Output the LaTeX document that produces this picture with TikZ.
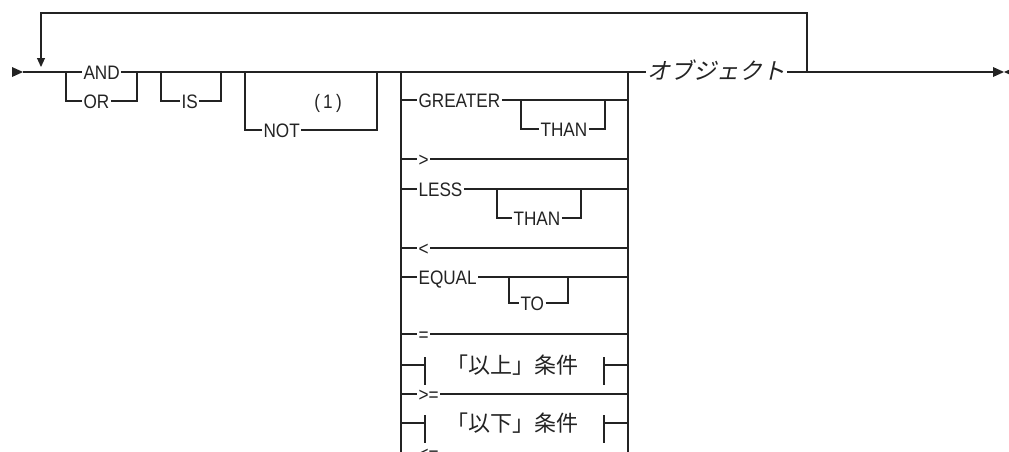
\documentclass[tikz,border=0pt]{standalone}
\usepackage{fontspec}
\setmainfont{Liberation Sans}[FakeStretch=0.88]
\newfontfamily\jpfont{Noto Sans CJK JP}
\newfontfamily\jpslfont{Noto Sans CJK JP}[FakeSlant=0.22]
\usepackage{tikz}
\usetikzlibrary{arrows.meta}
\definecolor{railink}{RGB}{35,35,35}

\begin{document}
\begin{tikzpicture}[x=1pt,y=-1pt,line width=1.1pt,color=railink,
  kw/.style={font=\fontsize{19.5}{22}\selectfont,inner xsep=1pt,inner ysep=0pt,
    text height=14pt,text depth=0pt,anchor=west},
  frag/.style={font=\jpfont\fontsize{22}{24}\selectfont,inner sep=0pt,anchor=base}]
  \useasboundingbox (0,0) rectangle (1009,451);
  \clip (0,0) rectangle (1009,451);

  \fill (12,67) -- (23,72) -- (12,77) -- cycle;
  \draw[-{Triangle[length=9pt,width=8pt]}] (807,72) -- (807,13) -- (41,13) -- (41,67);

  \node[kw] (and) at (82,72) {AND};
  \node[kw] (or) at (82,101) {OR};
  \node[kw] (is) at (180,101) {IS};
  \node[kw] (not) at (262,130) {NOT};
  \node[kw,anchor=center] (fn) at (328,101) {(\,1\,)};
  \node[font=\jpslfont\fontsize{23}{25}\selectfont,inner xsep=1pt,anchor=base west]
    (obj) at (646,79) {オブジェクト};

  \draw (23,72) -- (and.west) (and.east) -- (obj.west |- and.east);
  \draw (66,72) -- (66,101) -- (or.west) (or.east) -- (137,101) -- (137,72);
  \draw (161,72) -- (161,101) -- (is.west) (is.east) -- (221,101) -- (221,72);
  \draw (245,72) -- (245,130) -- (not.west) (not.east) -- (377,130) -- (377,72);
  \draw (obj.east |- and.east) -- (993,72);
  \draw[line width=2.4pt] (813,72) -- (837,72);
  \fill (993,67) -- (1004,72) -- (993,77) -- cycle;
  \fill (1004,72) -- (1013,68) -- (1013,76) -- cycle;

  \draw (401,72) -- (401,460) (628,72) -- (628,460);
  \foreach \ry/\word/\xa/\xb/\sub/\xs/\dy in
    {100/GREATER/521/605/THAN/539/29, 189/LESS/497/581/THAN/512/29,
     277/EQUAL/509/568/TO/519/26} {
    \node[kw] (w\ry) at (417,\ry) {\word};
    \node[kw] (s\ry) at (\xs,\ry+\dy) {\sub};
    \draw (401,\ry) -- (w\ry.west) (w\ry.east) -- (628,\ry);
    \draw (\xa,\ry) -- (\xa,\ry+\dy) -- (s\ry.west) (s\ry.east) -- (\xb,\ry+\dy) -- (\xb,\ry);
  }
  \foreach \ry/\lbl in {159/{>},248/{<},334/{=},394/{>=},453/{<=}} {
    \node[kw] (op\ry) at (417,\ry) {\lbl};
    \draw (401,\ry) -- (op\ry.west) (op\ry.east) -- (628,\ry);
  }
  \foreach \ry/\frag in {365/以上,423/以下} {
    \draw (401,\ry) -- (425,\ry) (425,\ry-8) -- (425,\ry+20);
    \draw (604,\ry-8) -- (604,\ry+20) (604,\ry) -- (628,\ry);
    \node[frag] (f\ry) at (512,\ry+8) {「\frag」条件};
  }
\end{tikzpicture}
\end{document}
